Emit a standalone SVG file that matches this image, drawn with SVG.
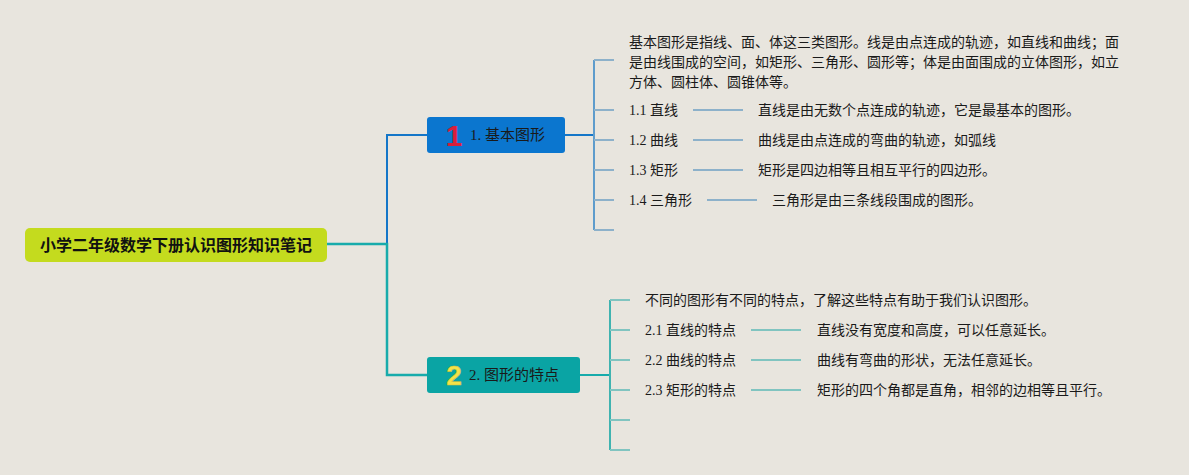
<svg xmlns="http://www.w3.org/2000/svg" width="1189" height="475" viewBox="0 0 1189 475">
<style>
.t{font-family:"Liberation Serif","Noto Sans CJK SC",serif;font-size:14px;fill:#1a1a1a;dominant-baseline:central}
.b1{stroke:#8db1ca;stroke-width:2;fill:none}
.b2{stroke:#80c4c0;stroke-width:2;fill:none}
</style>
<rect width="1189" height="475" fill="#e8e5de"/>
<g id="connectors" fill="none">
<path d="M327 244H387V135H427" stroke="#1476c8" stroke-width="2"/>
<path d="M327 244H387V375H427" stroke="#17abab" stroke-width="2.5"/>
<path d="M565 135H594" stroke="#1476c8" stroke-width="2"/>
<path d="M594 60V230" stroke="#5e9ccc" stroke-width="2"/>
<path class="b1" d="M594 60H614M594 110H614M594 140H614M594 170H614M594 200H614M594 230H614"/>
<path class="b1" d="M693 110H743M693 140H743M693 170H743M707 200H757"/>
<path d="M580 375H610" stroke="#17abab" stroke-width="2"/>
<path d="M610 300V450" stroke="#3fb3b0" stroke-width="2"/>
<path class="b2" d="M610 300H630M610 330H630M610 360H630M610 390H630M610 420H630M610 450H630"/>
<path class="b2" d="M751 330H801M751 360H801M751 390H801"/>
</g>
<g id="root">
<rect x="25" y="228" width="302" height="34" rx="5" fill="#c4db1e"/>
<text x="176" y="245" text-anchor="middle" style="font-family:'Liberation Sans','Noto Sans CJK SC',sans-serif;font-size:16px;font-weight:bold;fill:#111;dominant-baseline:central">小学二年级数学下册认识图形知识笔记</text>
</g>
<g id="node1">
<rect x="427" y="117" width="138" height="36" rx="3" fill="#0b76cf"/>
<text x="454" y="135" text-anchor="middle" style="font-family:'Liberation Sans',sans-serif;font-size:30px;font-weight:bold;fill:#d81e3a;dominant-baseline:central">1</text>
<text x="470" y="135" class="t" style="font-size:15px">1. 基本图形</text>
</g>
<g id="node2">
<rect x="427" y="357" width="153" height="36" rx="3" fill="#0aa4a4"/>
<text x="454" y="375" text-anchor="middle" style="font-family:'Liberation Sans',sans-serif;font-size:28px;font-weight:bold;fill:#f3e24a;stroke:#d9c22e;stroke-width:0.5;dominant-baseline:central">2</text>
<text x="469" y="375" class="t" style="font-size:15px">2. 图形的特点</text>
</g>
<g id="n1-intro">
<text x="629" y="42" class="t">基本图形是指线、面、体这三类图形。线是由点连成的轨迹，如直线和曲线；面</text>
<text x="629" y="62" class="t">是由线围成的空间，如矩形、三角形、圆形等；体是由面围成的立体图形，如立</text>
<text x="629" y="82" class="t">方体、圆柱体、圆锥体等。</text>
</g>
<g id="n1-1"><text x="629" y="110" class="t">1.1 直线</text><text x="758" y="110" class="t">直线是由无数个点连成的轨迹，它是最基本的图形。</text></g>
<g id="n1-2"><text x="629" y="140" class="t">1.2 曲线</text><text x="758" y="140" class="t">曲线是由点连成的弯曲的轨迹，如弧线</text></g>
<g id="n1-3"><text x="629" y="170" class="t">1.3 矩形</text><text x="758" y="170" class="t">矩形是四边相等且相互平行的四边形。</text></g>
<g id="n1-4"><text x="629" y="200" class="t">1.4 三角形</text><text x="772" y="200" class="t">三角形是由三条线段围成的图形。</text></g>
<g id="n2-intro"><text x="645" y="300" class="t">不同的图形有不同的特点，了解这些特点有助于我们认识图形。</text></g>
<g id="n2-1"><text x="645" y="330" class="t">2.1 直线的特点</text><text x="817" y="330" class="t">直线没有宽度和高度，可以任意延长。</text></g>
<g id="n2-2"><text x="645" y="360" class="t">2.2 曲线的特点</text><text x="817" y="360" class="t">曲线有弯曲的形状，无法任意延长。</text></g>
<g id="n2-3"><text x="645" y="390" class="t">2.3 矩形的特点</text><text x="817" y="390" class="t">矩形的四个角都是直角，相邻的边相等且平行。</text></g>
</svg>
